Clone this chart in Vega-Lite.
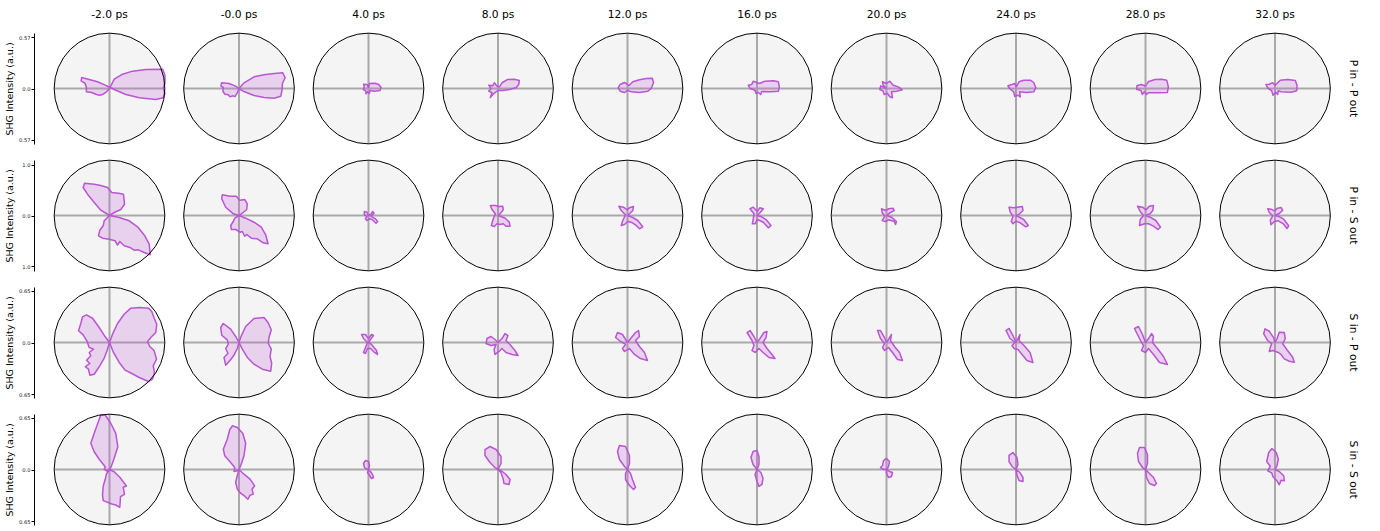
{
"$schema": "https://vega.github.io/schema/vega-lite/v6.json",
"padding": {"left": 4, "top": 9, "right": 5, "bottom": 0},
"spacing": 12,
"datasets": {
"r1": [
{"m":"P in - P out","d":"-2.0 ps","x":0,"y":0},{"m":"P in - P out","d":"-2.0 ps","x":0.053,"y":0.104},{"m":"P in - P out","d":"-2.0 ps","x":0.146,"y":0.16},{"m":"P in - P out","d":"-2.0 ps","x":0.258,"y":0.194},{"m":"P in - P out","d":"-2.0 ps","x":0.407,"y":0.213},{"m":"P in - P out","d":"-2.0 ps","x":0.594,"y":0.216},{"m":"P in - P out","d":"-2.0 ps","x":0.619,"y":0.149},{"m":"P in - P out","d":"-2.0 ps","x":0.619,"y":0.056},{"m":"P in - P out","d":"-2.0 ps","x":0.601,"y":0.011},{"m":"P in - P out","d":"-2.0 ps","x":0.619,"y":-0.056},{"m":"P in - P out","d":"-2.0 ps","x":0.601,"y":-0.104},{"m":"P in - P out","d":"-2.0 ps","x":0.519,"y":-0.123},{"m":"P in - P out","d":"-2.0 ps","x":0.333,"y":-0.104},{"m":"P in - P out","d":"-2.0 ps","x":0.183,"y":-0.067},{"m":"P in - P out","d":"-2.0 ps","x":0.071,"y":-0.019},{"m":"P in - P out","d":"-2.0 ps","x":0.008,"y":0.011},{"m":"P in - P out","d":"-2.0 ps","x":-0.048,"y":0.037},{"m":"P in - P out","d":"-2.0 ps","x":-0.134,"y":0.075},{"m":"P in - P out","d":"-2.0 ps","x":-0.227,"y":0.101},{"m":"P in - P out","d":"-2.0 ps","x":-0.31,"y":0.123},{"m":"P in - P out","d":"-2.0 ps","x":-0.317,"y":0.086},{"m":"P in - P out","d":"-2.0 ps","x":-0.272,"y":0.056},{"m":"P in - P out","d":"-2.0 ps","x":-0.258,"y":0.011},{"m":"P in - P out","d":"-2.0 ps","x":-0.258,"y":-0.037},{"m":"P in - P out","d":"-2.0 ps","x":-0.198,"y":-0.045},{"m":"P in - P out","d":"-2.0 ps","x":-0.146,"y":-0.067},{"m":"P in - P out","d":"-2.0 ps","x":-0.109,"y":-0.075},{"m":"P in - P out","d":"-2.0 ps","x":-0.071,"y":-0.064},{"m":"P in - P out","d":"-2.0 ps","x":-0.034,"y":-0.037},{"m":"P in - P out","d":"-2.0 ps","x":0,"y":0},
{"m":"P in - P out","d":"-0.0 ps","x":0,"y":0},{"m":"P in - P out","d":"-0.0 ps","x":0.056,"y":0.064},{"m":"P in - P out","d":"-0.0 ps","x":0.168,"y":0.131},{"m":"P in - P out","d":"-0.0 ps","x":0.28,"y":0.153},{"m":"P in - P out","d":"-0.0 ps","x":0.392,"y":0.168},{"m":"P in - P out","d":"-0.0 ps","x":0.489,"y":0.176},{"m":"P in - P out","d":"-0.0 ps","x":0.515,"y":0.12},{"m":"P in - P out","d":"-0.0 ps","x":0.485,"y":0.056},{"m":"P in - P out","d":"-0.0 ps","x":0.482,"y":-0.011},{"m":"P in - P out","d":"-0.0 ps","x":0.467,"y":-0.086},{"m":"P in - P out","d":"-0.0 ps","x":0.392,"y":-0.109},{"m":"P in - P out","d":"-0.0 ps","x":0.28,"y":-0.101},{"m":"P in - P out","d":"-0.0 ps","x":0.168,"y":-0.078},{"m":"P in - P out","d":"-0.0 ps","x":0.056,"y":-0.034},{"m":"P in - P out","d":"-0.0 ps","x":0,"y":-0.003},{"m":"P in - P out","d":"-0.0 ps","x":-0.037,"y":0.026},{"m":"P in - P out","d":"-0.0 ps","x":-0.112,"y":0.056},{"m":"P in - P out","d":"-0.0 ps","x":-0.194,"y":0.064},{"m":"P in - P out","d":"-0.0 ps","x":-0.202,"y":0.026},{"m":"P in - P out","d":"-0.0 ps","x":-0.176,"y":0.011},{"m":"P in - P out","d":"-0.0 ps","x":-0.179,"y":-0.034},{"m":"P in - P out","d":"-0.0 ps","x":-0.157,"y":-0.064},{"m":"P in - P out","d":"-0.0 ps","x":-0.12,"y":-0.071},{"m":"P in - P out","d":"-0.0 ps","x":-0.101,"y":-0.093},{"m":"P in - P out","d":"-0.0 ps","x":-0.071,"y":-0.082},{"m":"P in - P out","d":"-0.0 ps","x":-0.045,"y":-0.09},{"m":"P in - P out","d":"-0.0 ps","x":-0.019,"y":-0.048},{"m":"P in - P out","d":"-0.0 ps","x":0,"y":0},
{"m":"P in - P out","d":"4.0 ps","x":0,"y":0.008},{"m":"P in - P out","d":"4.0 ps","x":0.009,"y":0.056},{"m":"P in - P out","d":"4.0 ps","x":0.075,"y":0.059},{"m":"P in - P out","d":"4.0 ps","x":0.114,"y":0.045},{"m":"P in - P out","d":"4.0 ps","x":0.14,"y":0.015},{"m":"P in - P out","d":"4.0 ps","x":0.129,"y":-0.022},{"m":"P in - P out","d":"4.0 ps","x":0.065,"y":-0.03},{"m":"P in - P out","d":"4.0 ps","x":0.017,"y":-0.022},{"m":"P in - P out","d":"4.0 ps","x":0.009,"y":-0.056},{"m":"P in - P out","d":"4.0 ps","x":-0.009,"y":-0.037},{"m":"P in - P out","d":"4.0 ps","x":-0.028,"y":-0.059},{"m":"P in - P out","d":"4.0 ps","x":-0.031,"y":-0.026},{"m":"P in - P out","d":"4.0 ps","x":-0.058,"y":-0.011},{"m":"P in - P out","d":"4.0 ps","x":-0.047,"y":0.019},{"m":"P in - P out","d":"4.0 ps","x":-0.054,"y":0.048},{"m":"P in - P out","d":"4.0 ps","x":-0.017,"y":0.045},{"m":"P in - P out","d":"4.0 ps","x":0,"y":0.008},
{"m":"P in - P out","d":"8.0 ps","x":0.015,"y":0.015},{"m":"P in - P out","d":"8.0 ps","x":0.045,"y":0.064},{"m":"P in - P out","d":"8.0 ps","x":0.109,"y":0.101},{"m":"P in - P out","d":"8.0 ps","x":0.183,"y":0.104},{"m":"P in - P out","d":"8.0 ps","x":0.239,"y":0.09},{"m":"P in - P out","d":"8.0 ps","x":0.232,"y":0.045},{"m":"P in - P out","d":"8.0 ps","x":0.202,"y":0.008},{"m":"P in - P out","d":"8.0 ps","x":0.127,"y":-0.011},{"m":"P in - P out","d":"8.0 ps","x":0.053,"y":-0.022},{"m":"P in - P out","d":"8.0 ps","x":0.008,"y":-0.019},{"m":"P in - P out","d":"8.0 ps","x":-0.022,"y":-0.037},{"m":"P in - P out","d":"8.0 ps","x":-0.059,"y":-0.067},{"m":"P in - P out","d":"8.0 ps","x":-0.086,"y":-0.101},{"m":"P in - P out","d":"8.0 ps","x":-0.067,"y":-0.048},{"m":"P in - P out","d":"8.0 ps","x":-0.104,"y":-0.03},{"m":"P in - P out","d":"8.0 ps","x":-0.078,"y":0},{"m":"P in - P out","d":"8.0 ps","x":-0.104,"y":0.037},{"m":"P in - P out","d":"8.0 ps","x":-0.059,"y":0.03},{"m":"P in - P out","d":"8.0 ps","x":-0.041,"y":0.064},{"m":"P in - P out","d":"8.0 ps","x":-0.015,"y":0.03},{"m":"P in - P out","d":"8.0 ps","x":0.015,"y":0.015},
{"m":"P in - P out","d":"12.0 ps","x":0.015,"y":0.03},{"m":"P in - P out","d":"12.0 ps","x":0.059,"y":0.075},{"m":"P in - P out","d":"12.0 ps","x":0.134,"y":0.097},{"m":"P in - P out","d":"12.0 ps","x":0.209,"y":0.112},{"m":"P in - P out","d":"12.0 ps","x":0.277,"y":0.115},{"m":"P in - P out","d":"12.0 ps","x":0.291,"y":0.067},{"m":"P in - P out","d":"12.0 ps","x":0.265,"y":0},{"m":"P in - P out","d":"12.0 ps","x":0.227,"y":-0.03},{"m":"P in - P out","d":"12.0 ps","x":0.134,"y":-0.045},{"m":"P in - P out","d":"12.0 ps","x":0.041,"y":-0.037},{"m":"P in - P out","d":"12.0 ps","x":0.003,"y":-0.019},{"m":"P in - P out","d":"12.0 ps","x":-0.034,"y":-0.045},{"m":"P in - P out","d":"12.0 ps","x":-0.082,"y":-0.03},{"m":"P in - P out","d":"12.0 ps","x":-0.104,"y":0.008},{"m":"P in - P out","d":"12.0 ps","x":-0.082,"y":0.045},{"m":"P in - P out","d":"12.0 ps","x":-0.034,"y":0.067},{"m":"P in - P out","d":"12.0 ps","x":0,"y":0.045},{"m":"P in - P out","d":"12.0 ps","x":0.015,"y":0.03},
{"m":"P in - P out","d":"16.0 ps","x":0.026,"y":0.056},{"m":"P in - P out","d":"16.0 ps","x":0.09,"y":0.082},{"m":"P in - P out","d":"16.0 ps","x":0.183,"y":0.086},{"m":"P in - P out","d":"16.0 ps","x":0.239,"y":0.075},{"m":"P in - P out","d":"16.0 ps","x":0.25,"y":0.019},{"m":"P in - P out","d":"16.0 ps","x":0.239,"y":-0.03},{"m":"P in - P out","d":"16.0 ps","x":0.146,"y":-0.037},{"m":"P in - P out","d":"16.0 ps","x":0.053,"y":-0.034},{"m":"P in - P out","d":"16.0 ps","x":0.041,"y":-0.067},{"m":"P in - P out","d":"16.0 ps","x":0.015,"y":-0.045},{"m":"P in - P out","d":"16.0 ps","x":-0.011,"y":-0.056},{"m":"P in - P out","d":"16.0 ps","x":-0.022,"y":-0.019},{"m":"P in - P out","d":"16.0 ps","x":-0.078,"y":0},{"m":"P in - P out","d":"16.0 ps","x":-0.097,"y":0.037},{"m":"P in - P out","d":"16.0 ps","x":-0.059,"y":0.045},{"m":"P in - P out","d":"16.0 ps","x":-0.041,"y":0.082},{"m":"P in - P out","d":"16.0 ps","x":-0.003,"y":0.067},{"m":"P in - P out","d":"16.0 ps","x":0.026,"y":0.056},
{"m":"P in - P out","d":"20.0 ps","x":0,"y":0},{"m":"P in - P out","d":"20.0 ps","x":-0.037,"y":0.037},{"m":"P in - P out","d":"20.0 ps","x":-0.045,"y":0.075},{"m":"P in - P out","d":"20.0 ps","x":0,"y":0.056},{"m":"P in - P out","d":"20.0 ps","x":0.037,"y":0.082},{"m":"P in - P out","d":"20.0 ps","x":0.075,"y":0.037},{"m":"P in - P out","d":"20.0 ps","x":0.138,"y":0.015},{"m":"P in - P out","d":"20.0 ps","x":0.176,"y":-0.015},{"m":"P in - P out","d":"20.0 ps","x":0.112,"y":-0.03},{"m":"P in - P out","d":"20.0 ps","x":0.056,"y":-0.037},{"m":"P in - P out","d":"20.0 ps","x":0.067,"y":-0.104},{"m":"P in - P out","d":"20.0 ps","x":0.037,"y":-0.093},{"m":"P in - P out","d":"20.0 ps","x":0.011,"y":-0.056},{"m":"P in - P out","d":"20.0 ps","x":-0.026,"y":-0.067},{"m":"P in - P out","d":"20.0 ps","x":-0.037,"y":-0.03},{"m":"P in - P out","d":"20.0 ps","x":-0.075,"y":-0.011},{"m":"P in - P out","d":"20.0 ps","x":-0.064,"y":0.03},{"m":"P in - P out","d":"20.0 ps","x":0,"y":0},
{"m":"P in - P out","d":"24.0 ps","x":0.003,"y":0.019},{"m":"P in - P out","d":"24.0 ps","x":0.034,"y":0.075},{"m":"P in - P out","d":"24.0 ps","x":0.086,"y":0.093},{"m":"P in - P out","d":"24.0 ps","x":0.16,"y":0.093},{"m":"P in - P out","d":"24.0 ps","x":0.198,"y":0.067},{"m":"P in - P out","d":"24.0 ps","x":0.221,"y":0.008},{"m":"P in - P out","d":"24.0 ps","x":0.198,"y":-0.037},{"m":"P in - P out","d":"24.0 ps","x":0.115,"y":-0.045},{"m":"P in - P out","d":"24.0 ps","x":0.041,"y":-0.037},{"m":"P in - P out","d":"24.0 ps","x":0.048,"y":-0.093},{"m":"P in - P out","d":"24.0 ps","x":0.022,"y":-0.075},{"m":"P in - P out","d":"24.0 ps","x":-0.015,"y":-0.086},{"m":"P in - P out","d":"24.0 ps","x":-0.026,"y":-0.037},{"m":"P in - P out","d":"24.0 ps","x":-0.071,"y":0},{"m":"P in - P out","d":"24.0 ps","x":-0.09,"y":0.03},{"m":"P in - P out","d":"24.0 ps","x":-0.045,"y":0.045},{"m":"P in - P out","d":"24.0 ps","x":-0.015,"y":0.056},{"m":"P in - P out","d":"24.0 ps","x":0.003,"y":0.019},
{"m":"P in - P out","d":"28.0 ps","x":0.013,"y":0.045},{"m":"P in - P out","d":"28.0 ps","x":0.031,"y":0.075},{"m":"P in - P out","d":"28.0 ps","x":0.106,"y":0.101},{"m":"P in - P out","d":"28.0 ps","x":0.181,"y":0.104},{"m":"P in - P out","d":"28.0 ps","x":0.237,"y":0.093},{"m":"P in - P out","d":"28.0 ps","x":0.255,"y":0.019},{"m":"P in - P out","d":"28.0 ps","x":0.244,"y":-0.045},{"m":"P in - P out","d":"28.0 ps","x":0.143,"y":-0.048},{"m":"P in - P out","d":"28.0 ps","x":0.031,"y":-0.048},{"m":"P in - P out","d":"28.0 ps","x":0.013,"y":-0.067},{"m":"P in - P out","d":"28.0 ps","x":-0.013,"y":-0.037},{"m":"P in - P out","d":"28.0 ps","x":-0.036,"y":-0.067},{"m":"P in - P out","d":"28.0 ps","x":-0.05,"y":-0.022},{"m":"P in - P out","d":"28.0 ps","x":-0.099,"y":-0.008},{"m":"P in - P out","d":"28.0 ps","x":-0.095,"y":0.03},{"m":"P in - P out","d":"28.0 ps","x":-0.05,"y":0.045},{"m":"P in - P out","d":"28.0 ps","x":-0.006,"y":0.03},{"m":"P in - P out","d":"28.0 ps","x":0.013,"y":0.045},
{"m":"P in - P out","d":"32.0 ps","x":0.022,"y":0.056},{"m":"P in - P out","d":"32.0 ps","x":0.059,"y":0.093},{"m":"P in - P out","d":"32.0 ps","x":0.142,"y":0.101},{"m":"P in - P out","d":"32.0 ps","x":0.227,"y":0.09},{"m":"P in - P out","d":"32.0 ps","x":0.246,"y":0.037},{"m":"P in - P out","d":"32.0 ps","x":0.243,"y":-0.026},{"m":"P in - P out","d":"32.0 ps","x":0.179,"y":-0.041},{"m":"P in - P out","d":"32.0 ps","x":0.067,"y":-0.037},{"m":"P in - P out","d":"32.0 ps","x":0.037,"y":-0.026},{"m":"P in - P out","d":"32.0 ps","x":0.03,"y":-0.067},{"m":"P in - P out","d":"32.0 ps","x":0.008,"y":-0.041},{"m":"P in - P out","d":"32.0 ps","x":-0.022,"y":-0.075},{"m":"P in - P out","d":"32.0 ps","x":-0.037,"y":-0.026},{"m":"P in - P out","d":"32.0 ps","x":-0.082,"y":0.008},{"m":"P in - P out","d":"32.0 ps","x":-0.101,"y":0.045},{"m":"P in - P out","d":"32.0 ps","x":-0.064,"y":0.048},{"m":"P in - P out","d":"32.0 ps","x":-0.026,"y":0.064},{"m":"P in - P out","d":"32.0 ps","x":0,"y":0.037},{"m":"P in - P out","d":"32.0 ps","x":0.022,"y":0.056}
],
"r2": [
{"m":"P in - S out","d":"-2.0 ps","x":0,"y":0},{"m":"P in - S out","d":"-2.0 ps","x":0.092,"y":0.059},{"m":"P in - S out","d":"-2.0 ps","x":0.222,"y":0.118},{"m":"P in - S out","d":"-2.0 ps","x":0.295,"y":0.222},{"m":"P in - S out","d":"-2.0 ps","x":0.275,"y":0.418},{"m":"P in - S out","d":"-2.0 ps","x":0.177,"y":0.438},{"m":"P in - S out","d":"-2.0 ps","x":0.045,"y":0.452},{"m":"P in - S out","d":"-2.0 ps","x":-0.039,"y":0.55},{"m":"P in - S out","d":"-2.0 ps","x":-0.171,"y":0.589},{"m":"P in - S out","d":"-2.0 ps","x":-0.3,"y":0.615},{"m":"P in - S out","d":"-2.0 ps","x":-0.491,"y":0.634},{"m":"P in - S out","d":"-2.0 ps","x":-0.517,"y":0.55},{"m":"P in - S out","d":"-2.0 ps","x":-0.432,"y":0.418},{"m":"P in - S out","d":"-2.0 ps","x":-0.3,"y":0.255},{"m":"P in - S out","d":"-2.0 ps","x":-0.171,"y":0.104},{"m":"P in - S out","d":"-2.0 ps","x":0,"y":0},{"m":"P in - S out","d":"-2.0 ps","x":0.191,"y":-0.039},{"m":"P in - S out","d":"-2.0 ps","x":0.387,"y":-0.104},{"m":"P in - S out","d":"-2.0 ps","x":0.55,"y":-0.222},{"m":"P in - S out","d":"-2.0 ps","x":0.693,"y":-0.399},{"m":"P in - S out","d":"-2.0 ps","x":0.78,"y":-0.564},{"m":"P in - S out","d":"-2.0 ps","x":0.8,"y":-0.772},{"m":"P in - S out","d":"-2.0 ps","x":0.682,"y":-0.727},{"m":"P in - S out","d":"-2.0 ps","x":0.57,"y":-0.674},{"m":"P in - S out","d":"-2.0 ps","x":0.485,"y":-0.682},{"m":"P in - S out","d":"-2.0 ps","x":0.399,"y":-0.628},{"m":"P in - S out","d":"-2.0 ps","x":0.289,"y":-0.595},{"m":"P in - S out","d":"-2.0 ps","x":0.202,"y":-0.511},{"m":"P in - S out","d":"-2.0 ps","x":0.157,"y":-0.583},{"m":"P in - S out","d":"-2.0 ps","x":0.112,"y":-0.497},{"m":"P in - S out","d":"-2.0 ps","x":-0.006,"y":-0.465},{"m":"P in - S out","d":"-2.0 ps","x":-0.137,"y":-0.446},{"m":"P in - S out","d":"-2.0 ps","x":-0.216,"y":-0.399},{"m":"P in - S out","d":"-2.0 ps","x":-0.191,"y":-0.289},{"m":"P in - S out","d":"-2.0 ps","x":-0.124,"y":-0.202},{"m":"P in - S out","d":"-2.0 ps","x":-0.104,"y":-0.104},{"m":"P in - S out","d":"-2.0 ps","x":0,"y":0},
{"m":"P in - S out","d":"-0.0 ps","x":0,"y":0},{"m":"P in - S out","d":"-0.0 ps","x":0.065,"y":0.045},{"m":"P in - S out","d":"-0.0 ps","x":0.151,"y":0.118},{"m":"P in - S out","d":"-0.0 ps","x":0.163,"y":0.23},{"m":"P in - S out","d":"-0.0 ps","x":0.112,"y":0.314},{"m":"P in - S out","d":"-0.0 ps","x":0.014,"y":0.3},{"m":"P in - S out","d":"-0.0 ps","x":-0.053,"y":0.379},{"m":"P in - S out","d":"-0.0 ps","x":-0.177,"y":0.379},{"m":"P in - S out","d":"-0.0 ps","x":-0.328,"y":0.407},{"m":"P in - S out","d":"-0.0 ps","x":-0.34,"y":0.328},{"m":"P in - S out","d":"-0.0 ps","x":-0.261,"y":0.163},{"m":"P in - S out","d":"-0.0 ps","x":-0.112,"y":0.033},{"m":"P in - S out","d":"-0.0 ps","x":0,"y":0},{"m":"P in - S out","d":"-0.0 ps","x":0.132,"y":-0.053},{"m":"P in - S out","d":"-0.0 ps","x":0.295,"y":-0.132},{"m":"P in - S out","d":"-0.0 ps","x":0.438,"y":-0.23},{"m":"P in - S out","d":"-0.0 ps","x":0.524,"y":-0.379},{"m":"P in - S out","d":"-0.0 ps","x":0.57,"y":-0.556},{"m":"P in - S out","d":"-0.0 ps","x":0.477,"y":-0.536},{"m":"P in - S out","d":"-0.0 ps","x":0.359,"y":-0.458},{"m":"P in - S out","d":"-0.0 ps","x":0.242,"y":-0.446},{"m":"P in - S out","d":"-0.0 ps","x":0.151,"y":-0.373},{"m":"P in - S out","d":"-0.0 ps","x":0.112,"y":-0.407},{"m":"P in - S out","d":"-0.0 ps","x":0.065,"y":-0.314},{"m":"P in - S out","d":"-0.0 ps","x":0.02,"y":-0.328},{"m":"P in - S out","d":"-0.0 ps","x":-0.065,"y":-0.275},{"m":"P in - S out","d":"-0.0 ps","x":-0.151,"y":-0.275},{"m":"P in - S out","d":"-0.0 ps","x":-0.163,"y":-0.196},{"m":"P in - S out","d":"-0.0 ps","x":-0.112,"y":-0.118},{"m":"P in - S out","d":"-0.0 ps","x":-0.084,"y":-0.053},{"m":"P in - S out","d":"-0.0 ps","x":0,"y":0},
{"m":"P in - S out","d":"4.0 ps","x":0,"y":0},{"m":"P in - S out","d":"4.0 ps","x":0.049,"y":0.026},{"m":"P in - S out","d":"4.0 ps","x":0.082,"y":0.079},{"m":"P in - S out","d":"4.0 ps","x":0.108,"y":0.045},{"m":"P in - S out","d":"4.0 ps","x":0.049,"y":-0.014},{"m":"P in - S out","d":"4.0 ps","x":0.134,"y":-0.065},{"m":"P in - S out","d":"4.0 ps","x":0.181,"y":-0.118},{"m":"P in - S out","d":"4.0 ps","x":0.147,"y":-0.151},{"m":"P in - S out","d":"4.0 ps","x":0.069,"y":-0.079},{"m":"P in - S out","d":"4.0 ps","x":0.016,"y":-0.065},{"m":"P in - S out","d":"4.0 ps","x":-0.029,"y":-0.098},{"m":"P in - S out","d":"4.0 ps","x":-0.063,"y":-0.065},{"m":"P in - S out","d":"4.0 ps","x":-0.029,"y":-0.02},{"m":"P in - S out","d":"4.0 ps","x":-0.082,"y":0.014},{"m":"P in - S out","d":"4.0 ps","x":-0.082,"y":0.079},{"m":"P in - S out","d":"4.0 ps","x":-0.029,"y":0.065},{"m":"P in - S out","d":"4.0 ps","x":0,"y":0},
{"m":"P in - S out","d":"8.0 ps","x":0,"y":0},{"m":"P in - S out","d":"8.0 ps","x":0.059,"y":0.053},{"m":"P in - S out","d":"8.0 ps","x":0.104,"y":0.112},{"m":"P in - S out","d":"8.0 ps","x":0.092,"y":0.183},{"m":"P in - S out","d":"8.0 ps","x":0.014,"y":0.177},{"m":"P in - S out","d":"8.0 ps","x":-0.053,"y":0.196},{"m":"P in - S out","d":"8.0 ps","x":-0.151,"y":0.196},{"m":"P in - S out","d":"8.0 ps","x":-0.118,"y":0.118},{"m":"P in - S out","d":"8.0 ps","x":-0.053,"y":0.033},{"m":"P in - S out","d":"8.0 ps","x":-0.092,"y":-0.065},{"m":"P in - S out","d":"8.0 ps","x":-0.132,"y":-0.196},{"m":"P in - S out","d":"8.0 ps","x":-0.073,"y":-0.216},{"m":"P in - S out","d":"8.0 ps","x":-0.02,"y":-0.163},{"m":"P in - S out","d":"8.0 ps","x":0.039,"y":-0.177},{"m":"P in - S out","d":"8.0 ps","x":0.104,"y":-0.163},{"m":"P in - S out","d":"8.0 ps","x":0.157,"y":-0.21},{"m":"P in - S out","d":"8.0 ps","x":0.236,"y":-0.21},{"m":"P in - S out","d":"8.0 ps","x":0.222,"y":-0.132},{"m":"P in - S out","d":"8.0 ps","x":0.143,"y":-0.053},{"m":"P in - S out","d":"8.0 ps","x":0.059,"y":-0.02},{"m":"P in - S out","d":"8.0 ps","x":0,"y":0},
{"m":"P in - S out","d":"12.0 ps","x":0,"y":0},{"m":"P in - S out","d":"12.0 ps","x":0.059,"y":0.053},{"m":"P in - S out","d":"12.0 ps","x":0.104,"y":0.098},{"m":"P in - S out","d":"12.0 ps","x":0.118,"y":0.177},{"m":"P in - S out","d":"12.0 ps","x":0.039,"y":0.151},{"m":"P in - S out","d":"12.0 ps","x":-0.006,"y":0.112},{"m":"P in - S out","d":"12.0 ps","x":-0.079,"y":0.163},{"m":"P in - S out","d":"12.0 ps","x":-0.171,"y":0.183},{"m":"P in - S out","d":"12.0 ps","x":-0.124,"y":0.098},{"m":"P in - S out","d":"12.0 ps","x":-0.039,"y":0.014},{"m":"P in - S out","d":"12.0 ps","x":-0.092,"y":-0.098},{"m":"P in - S out","d":"12.0 ps","x":-0.124,"y":-0.196},{"m":"P in - S out","d":"12.0 ps","x":-0.059,"y":-0.177},{"m":"P in - S out","d":"12.0 ps","x":0.006,"y":-0.118},{"m":"P in - S out","d":"12.0 ps","x":0.073,"y":-0.132},{"m":"P in - S out","d":"12.0 ps","x":0.171,"y":-0.196},{"m":"P in - S out","d":"12.0 ps","x":0.236,"y":-0.261},{"m":"P in - S out","d":"12.0 ps","x":0.3,"y":-0.222},{"m":"P in - S out","d":"12.0 ps","x":0.202,"y":-0.098},{"m":"P in - S out","d":"12.0 ps","x":0.104,"y":-0.039},{"m":"P in - S out","d":"12.0 ps","x":0,"y":0},
{"m":"P in - S out","d":"16.0 ps","x":0,"y":0},{"m":"P in - S out","d":"16.0 ps","x":0.059,"y":0.053},{"m":"P in - S out","d":"16.0 ps","x":0.124,"y":0.132},{"m":"P in - S out","d":"16.0 ps","x":0.053,"y":0.151},{"m":"P in - S out","d":"16.0 ps","x":0.006,"y":0.079},{"m":"P in - S out","d":"16.0 ps","x":-0.073,"y":0.163},{"m":"P in - S out","d":"16.0 ps","x":-0.137,"y":0.132},{"m":"P in - S out","d":"16.0 ps","x":-0.059,"y":0.033},{"m":"P in - S out","d":"16.0 ps","x":-0.073,"y":-0.065},{"m":"P in - S out","d":"16.0 ps","x":-0.092,"y":-0.163},{"m":"P in - S out","d":"16.0 ps","x":-0.039,"y":-0.163},{"m":"P in - S out","d":"16.0 ps","x":0.006,"y":-0.079},{"m":"P in - S out","d":"16.0 ps","x":0.124,"y":-0.132},{"m":"P in - S out","d":"16.0 ps","x":0.222,"y":-0.242},{"m":"P in - S out","d":"16.0 ps","x":0.275,"y":-0.196},{"m":"P in - S out","d":"16.0 ps","x":0.177,"y":-0.079},{"m":"P in - S out","d":"16.0 ps","x":0.092,"y":-0.026},{"m":"P in - S out","d":"16.0 ps","x":0,"y":0},
{"m":"P in - S out","d":"20.0 ps","x":0,"y":0},{"m":"P in - S out","d":"20.0 ps","x":0.065,"y":0.053},{"m":"P in - S out","d":"20.0 ps","x":0.151,"y":0.098},{"m":"P in - S out","d":"20.0 ps","x":0.132,"y":0.143},{"m":"P in - S out","d":"20.0 ps","x":0.045,"y":0.132},{"m":"P in - S out","d":"20.0 ps","x":-0.02,"y":0.098},{"m":"P in - S out","d":"20.0 ps","x":-0.098,"y":0.132},{"m":"P in - S out","d":"20.0 ps","x":-0.084,"y":0.053},{"m":"P in - S out","d":"20.0 ps","x":-0.033,"y":-0.014},{"m":"P in - S out","d":"20.0 ps","x":-0.084,"y":-0.098},{"m":"P in - S out","d":"20.0 ps","x":-0.02,"y":-0.118},{"m":"P in - S out","d":"20.0 ps","x":0.045,"y":-0.084},{"m":"P in - S out","d":"20.0 ps","x":0.151,"y":-0.118},{"m":"P in - S out","d":"20.0 ps","x":0.177,"y":-0.177},{"m":"P in - S out","d":"20.0 ps","x":0.196,"y":-0.118},{"m":"P in - S out","d":"20.0 ps","x":0.098,"y":-0.033},{"m":"P in - S out","d":"20.0 ps","x":0,"y":0},
{"m":"P in - S out","d":"24.0 ps","x":0,"y":0},{"m":"P in - S out","d":"24.0 ps","x":0.073,"y":0.033},{"m":"P in - S out","d":"24.0 ps","x":0.137,"y":0.098},{"m":"P in - S out","d":"24.0 ps","x":0.124,"y":0.177},{"m":"P in - S out","d":"24.0 ps","x":0.02,"y":0.163},{"m":"P in - S out","d":"24.0 ps","x":-0.045,"y":0.151},{"m":"P in - S out","d":"24.0 ps","x":-0.137,"y":0.163},{"m":"P in - S out","d":"24.0 ps","x":-0.112,"y":0.065},{"m":"P in - S out","d":"24.0 ps","x":-0.059,"y":-0.014},{"m":"P in - S out","d":"24.0 ps","x":-0.092,"y":-0.118},{"m":"P in - S out","d":"24.0 ps","x":-0.059,"y":-0.163},{"m":"P in - S out","d":"24.0 ps","x":-0.006,"y":-0.112},{"m":"P in - S out","d":"24.0 ps","x":0.084,"y":-0.143},{"m":"P in - S out","d":"24.0 ps","x":0.191,"y":-0.222},{"m":"P in - S out","d":"24.0 ps","x":0.242,"y":-0.196},{"m":"P in - S out","d":"24.0 ps","x":0.151,"y":-0.079},{"m":"P in - S out","d":"24.0 ps","x":0,"y":0},
{"m":"P in - S out","d":"28.0 ps","x":0,"y":0},{"m":"P in - S out","d":"28.0 ps","x":0.092,"y":0.033},{"m":"P in - S out","d":"28.0 ps","x":0.143,"y":0.098},{"m":"P in - S out","d":"28.0 ps","x":0.157,"y":0.196},{"m":"P in - S out","d":"28.0 ps","x":0.073,"y":0.183},{"m":"P in - S out","d":"28.0 ps","x":0.014,"y":0.112},{"m":"P in - S out","d":"28.0 ps","x":-0.059,"y":0.163},{"m":"P in - S out","d":"28.0 ps","x":-0.157,"y":0.183},{"m":"P in - S out","d":"28.0 ps","x":-0.104,"y":0.079},{"m":"P in - S out","d":"28.0 ps","x":-0.039,"y":0},{"m":"P in - S out","d":"28.0 ps","x":-0.104,"y":-0.079},{"m":"P in - S out","d":"28.0 ps","x":-0.118,"y":-0.196},{"m":"P in - S out","d":"28.0 ps","x":-0.02,"y":-0.163},{"m":"P in - S out","d":"28.0 ps","x":0.059,"y":-0.163},{"m":"P in - S out","d":"28.0 ps","x":0.157,"y":-0.21},{"m":"P in - S out","d":"28.0 ps","x":0.242,"y":-0.275},{"m":"P in - S out","d":"28.0 ps","x":0.295,"y":-0.23},{"m":"P in - S out","d":"28.0 ps","x":0.202,"y":-0.098},{"m":"P in - S out","d":"28.0 ps","x":0.092,"y":-0.033},{"m":"P in - S out","d":"28.0 ps","x":0,"y":0},
{"m":"P in - S out","d":"32.0 ps","x":0,"y":0},{"m":"P in - S out","d":"32.0 ps","x":0.084,"y":0.039},{"m":"P in - S out","d":"32.0 ps","x":0.151,"y":0.104},{"m":"P in - S out","d":"32.0 ps","x":0.118,"y":0.157},{"m":"P in - S out","d":"32.0 ps","x":0.053,"y":0.143},{"m":"P in - S out","d":"32.0 ps","x":-0.014,"y":0.092},{"m":"P in - S out","d":"32.0 ps","x":-0.079,"y":0.124},{"m":"P in - S out","d":"32.0 ps","x":-0.143,"y":0.132},{"m":"P in - S out","d":"32.0 ps","x":-0.112,"y":0.059},{"m":"P in - S out","d":"32.0 ps","x":-0.045,"y":-0.006},{"m":"P in - S out","d":"32.0 ps","x":-0.092,"y":-0.092},{"m":"P in - S out","d":"32.0 ps","x":-0.079,"y":-0.183},{"m":"P in - S out","d":"32.0 ps","x":-0.014,"y":-0.118},{"m":"P in - S out","d":"32.0 ps","x":0.065,"y":-0.104},{"m":"P in - S out","d":"32.0 ps","x":0.171,"y":-0.171},{"m":"P in - S out","d":"32.0 ps","x":0.236,"y":-0.255},{"m":"P in - S out","d":"32.0 ps","x":0.269,"y":-0.202},{"m":"P in - S out","d":"32.0 ps","x":0.171,"y":-0.073},{"m":"P in - S out","d":"32.0 ps","x":0.065,"y":-0.014},{"m":"P in - S out","d":"32.0 ps","x":0,"y":0}
],
"r3": [
{"m":"S in - P out","d":"-2.0 ps","x":0,"y":0},{"m":"S in - P out","d":"-2.0 ps","x":0.038,"y":0.105},{"m":"S in - P out","d":"-2.0 ps","x":0.101,"y":0.24},{"m":"S in - P out","d":"-2.0 ps","x":0.185,"y":0.357},{"m":"S in - P out","d":"-2.0 ps","x":0.269,"y":0.433},{"m":"S in - P out","d":"-2.0 ps","x":0.375,"y":0.441},{"m":"S in - P out","d":"-2.0 ps","x":0.492,"y":0.433},{"m":"S in - P out","d":"-2.0 ps","x":0.533,"y":0.391},{"m":"S in - P out","d":"-2.0 ps","x":0.564,"y":0.306},{"m":"S in - P out","d":"-2.0 ps","x":0.596,"y":0.231},{"m":"S in - P out","d":"-2.0 ps","x":0.584,"y":0.126},{"m":"S in - P out","d":"-2.0 ps","x":0.521,"y":0.063},{"m":"S in - P out","d":"-2.0 ps","x":0.479,"y":0.009},{"m":"S in - P out","d":"-2.0 ps","x":0.508,"y":-0.05},{"m":"S in - P out","d":"-2.0 ps","x":0.564,"y":-0.105},{"m":"S in - P out","d":"-2.0 ps","x":0.593,"y":-0.211},{"m":"S in - P out","d":"-2.0 ps","x":0.551,"y":-0.294},{"m":"S in - P out","d":"-2.0 ps","x":0.567,"y":-0.378},{"m":"S in - P out","d":"-2.0 ps","x":0.542,"y":-0.463},{"m":"S in - P out","d":"-2.0 ps","x":0.492,"y":-0.492},{"m":"S in - P out","d":"-2.0 ps","x":0.375,"y":-0.441},{"m":"S in - P out","d":"-2.0 ps","x":0.281,"y":-0.391},{"m":"S in - P out","d":"-2.0 ps","x":0.198,"y":-0.349},{"m":"S in - P out","d":"-2.0 ps","x":0.122,"y":-0.252},{"m":"S in - P out","d":"-2.0 ps","x":0.05,"y":-0.126},{"m":"S in - P out","d":"-2.0 ps","x":0,"y":0},{"m":"S in - P out","d":"-2.0 ps","x":-0.054,"y":0.072},{"m":"S in - P out","d":"-2.0 ps","x":-0.13,"y":0.189},{"m":"S in - P out","d":"-2.0 ps","x":-0.214,"y":0.306},{"m":"S in - P out","d":"-2.0 ps","x":-0.29,"y":0.349},{"m":"S in - P out","d":"-2.0 ps","x":-0.34,"y":0.324},{"m":"S in - P out","d":"-2.0 ps","x":-0.362,"y":0.24},{"m":"S in - P out","d":"-2.0 ps","x":-0.391,"y":0.148},{"m":"S in - P out","d":"-2.0 ps","x":-0.332,"y":0.097},{"m":"S in - P out","d":"-2.0 ps","x":-0.286,"y":0.021},{"m":"S in - P out","d":"-2.0 ps","x":-0.256,"y":-0.063},{"m":"S in - P out","d":"-2.0 ps","x":-0.202,"y":-0.084},{"m":"S in - P out","d":"-2.0 ps","x":-0.256,"y":-0.126},{"m":"S in - P out","d":"-2.0 ps","x":-0.236,"y":-0.168},{"m":"S in - P out","d":"-2.0 ps","x":-0.29,"y":-0.223},{"m":"S in - P out","d":"-2.0 ps","x":-0.248,"y":-0.265},{"m":"S in - P out","d":"-2.0 ps","x":-0.306,"y":-0.306},{"m":"S in - P out","d":"-2.0 ps","x":-0.265,"y":-0.337},{"m":"S in - P out","d":"-2.0 ps","x":-0.248,"y":-0.412},{"m":"S in - P out","d":"-2.0 ps","x":-0.193,"y":-0.4},{"m":"S in - P out","d":"-2.0 ps","x":-0.13,"y":-0.306},{"m":"S in - P out","d":"-2.0 ps","x":-0.067,"y":-0.198},{"m":"S in - P out","d":"-2.0 ps","x":-0.025,"y":-0.084},{"m":"S in - P out","d":"-2.0 ps","x":0,"y":0},
{"m":"S in - P out","d":"-0.0 ps","x":0,"y":0},{"m":"S in - P out","d":"-0.0 ps","x":0.029,"y":0.084},{"m":"S in - P out","d":"-0.0 ps","x":0.084,"y":0.202},{"m":"S in - P out","d":"-0.0 ps","x":0.189,"y":0.303},{"m":"S in - P out","d":"-0.0 ps","x":0.315,"y":0.315},{"m":"S in - P out","d":"-0.0 ps","x":0.366,"y":0.252},{"m":"S in - P out","d":"-0.0 ps","x":0.407,"y":0.16},{"m":"S in - P out","d":"-0.0 ps","x":0.378,"y":0.063},{"m":"S in - P out","d":"-0.0 ps","x":0.369,"y":-0.009},{"m":"S in - P out","d":"-0.0 ps","x":0.407,"y":-0.084},{"m":"S in - P out","d":"-0.0 ps","x":0.391,"y":-0.177},{"m":"S in - P out","d":"-0.0 ps","x":0.412,"y":-0.261},{"m":"S in - P out","d":"-0.0 ps","x":0.4,"y":-0.362},{"m":"S in - P out","d":"-0.0 ps","x":0.294,"y":-0.337},{"m":"S in - P out","d":"-0.0 ps","x":0.189,"y":-0.274},{"m":"S in - P out","d":"-0.0 ps","x":0.105,"y":-0.189},{"m":"S in - P out","d":"-0.0 ps","x":0.042,"y":-0.084},{"m":"S in - P out","d":"-0.0 ps","x":0,"y":0},{"m":"S in - P out","d":"-0.0 ps","x":-0.042,"y":0.076},{"m":"S in - P out","d":"-0.0 ps","x":-0.105,"y":0.168},{"m":"S in - P out","d":"-0.0 ps","x":-0.198,"y":0.24},{"m":"S in - P out","d":"-0.0 ps","x":-0.231,"y":0.189},{"m":"S in - P out","d":"-0.0 ps","x":-0.218,"y":0.092},{"m":"S in - P out","d":"-0.0 ps","x":-0.148,"y":0.034},{"m":"S in - P out","d":"-0.0 ps","x":-0.135,"y":-0.021},{"m":"S in - P out","d":"-0.0 ps","x":-0.168,"y":-0.076},{"m":"S in - P out","d":"-0.0 ps","x":-0.139,"y":-0.139},{"m":"S in - P out","d":"-0.0 ps","x":-0.189,"y":-0.189},{"m":"S in - P out","d":"-0.0 ps","x":-0.168,"y":-0.286},{"m":"S in - P out","d":"-0.0 ps","x":-0.117,"y":-0.231},{"m":"S in - P out","d":"-0.0 ps","x":-0.063,"y":-0.16},{"m":"S in - P out","d":"-0.0 ps","x":-0.021,"y":-0.076},{"m":"S in - P out","d":"-0.0 ps","x":0,"y":0},
{"m":"S in - P out","d":"4.0 ps","x":0,"y":0},{"m":"S in - P out","d":"4.0 ps","x":0.025,"y":0.038},{"m":"S in - P out","d":"4.0 ps","x":0.063,"y":0.088},{"m":"S in - P out","d":"4.0 ps","x":0.038,"y":0.101},{"m":"S in - P out","d":"4.0 ps","x":0,"y":0.05},{"m":"S in - P out","d":"4.0 ps","x":-0.038,"y":0.101},{"m":"S in - P out","d":"4.0 ps","x":-0.088,"y":0.101},{"m":"S in - P out","d":"4.0 ps","x":-0.063,"y":0.05},{"m":"S in - P out","d":"4.0 ps","x":-0.013,"y":0},{"m":"S in - P out","d":"4.0 ps","x":-0.038,"y":-0.063},{"m":"S in - P out","d":"4.0 ps","x":-0.063,"y":-0.126},{"m":"S in - P out","d":"4.0 ps","x":-0.038,"y":-0.139},{"m":"S in - P out","d":"4.0 ps","x":-0.013,"y":-0.076},{"m":"S in - P out","d":"4.0 ps","x":0.025,"y":-0.076},{"m":"S in - P out","d":"4.0 ps","x":0.076,"y":-0.126},{"m":"S in - P out","d":"4.0 ps","x":0.113,"y":-0.151},{"m":"S in - P out","d":"4.0 ps","x":0.101,"y":-0.101},{"m":"S in - P out","d":"4.0 ps","x":0.038,"y":-0.025},{"m":"S in - P out","d":"4.0 ps","x":0,"y":0},
{"m":"S in - P out","d":"8.0 ps","x":0,"y":0},{"m":"S in - P out","d":"8.0 ps","x":0.05,"y":0.05},{"m":"S in - P out","d":"8.0 ps","x":0.088,"y":0.113},{"m":"S in - P out","d":"8.0 ps","x":0.126,"y":0.088},{"m":"S in - P out","d":"8.0 ps","x":0.101,"y":0.025},{"m":"S in - P out","d":"8.0 ps","x":0.151,"y":-0.025},{"m":"S in - P out","d":"8.0 ps","x":0.214,"y":-0.101},{"m":"S in - P out","d":"8.0 ps","x":0.252,"y":-0.164},{"m":"S in - P out","d":"8.0 ps","x":0.177,"y":-0.151},{"m":"S in - P out","d":"8.0 ps","x":0.101,"y":-0.126},{"m":"S in - P out","d":"8.0 ps","x":0.05,"y":-0.076},{"m":"S in - P out","d":"8.0 ps","x":0.013,"y":-0.113},{"m":"S in - P out","d":"8.0 ps","x":-0.038,"y":-0.151},{"m":"S in - P out","d":"8.0 ps","x":-0.05,"y":-0.088},{"m":"S in - P out","d":"8.0 ps","x":-0.025,"y":-0.025},{"m":"S in - P out","d":"8.0 ps","x":-0.088,"y":-0.038},{"m":"S in - P out","d":"8.0 ps","x":-0.151,"y":-0.013},{"m":"S in - P out","d":"8.0 ps","x":-0.139,"y":0.05},{"m":"S in - P out","d":"8.0 ps","x":-0.088,"y":0.076},{"m":"S in - P out","d":"8.0 ps","x":-0.038,"y":0.038},{"m":"S in - P out","d":"8.0 ps","x":0,"y":0},
{"m":"S in - P out","d":"12.0 ps","x":0,"y":0},{"m":"S in - P out","d":"12.0 ps","x":0.05,"y":0.063},{"m":"S in - P out","d":"12.0 ps","x":0.101,"y":0.126},{"m":"S in - P out","d":"12.0 ps","x":0.139,"y":0.151},{"m":"S in - P out","d":"12.0 ps","x":0.151,"y":0.076},{"m":"S in - P out","d":"12.0 ps","x":0.101,"y":0.025},{"m":"S in - P out","d":"12.0 ps","x":0.151,"y":-0.05},{"m":"S in - P out","d":"12.0 ps","x":0.214,"y":-0.126},{"m":"S in - P out","d":"12.0 ps","x":0.252,"y":-0.227},{"m":"S in - P out","d":"12.0 ps","x":0.164,"y":-0.202},{"m":"S in - P out","d":"12.0 ps","x":0.088,"y":-0.151},{"m":"S in - P out","d":"12.0 ps","x":0.025,"y":-0.076},{"m":"S in - P out","d":"12.0 ps","x":-0.038,"y":-0.113},{"m":"S in - P out","d":"12.0 ps","x":-0.063,"y":-0.076},{"m":"S in - P out","d":"12.0 ps","x":-0.025,"y":-0.025},{"m":"S in - P out","d":"12.0 ps","x":-0.088,"y":0.013},{"m":"S in - P out","d":"12.0 ps","x":-0.151,"y":0.063},{"m":"S in - P out","d":"12.0 ps","x":-0.126,"y":0.126},{"m":"S in - P out","d":"12.0 ps","x":-0.063,"y":0.101},{"m":"S in - P out","d":"12.0 ps","x":0,"y":0},
{"m":"S in - P out","d":"16.0 ps","x":0,"y":0},{"m":"S in - P out","d":"16.0 ps","x":0.038,"y":0.05},{"m":"S in - P out","d":"16.0 ps","x":0.088,"y":0.126},{"m":"S in - P out","d":"16.0 ps","x":0.126,"y":0.139},{"m":"S in - P out","d":"16.0 ps","x":0.113,"y":0.063},{"m":"S in - P out","d":"16.0 ps","x":0.076,"y":0},{"m":"S in - P out","d":"16.0 ps","x":0.126,"y":-0.076},{"m":"S in - P out","d":"16.0 ps","x":0.189,"y":-0.151},{"m":"S in - P out","d":"16.0 ps","x":0.227,"y":-0.202},{"m":"S in - P out","d":"16.0 ps","x":0.151,"y":-0.189},{"m":"S in - P out","d":"16.0 ps","x":0.076,"y":-0.126},{"m":"S in - P out","d":"16.0 ps","x":0.025,"y":-0.076},{"m":"S in - P out","d":"16.0 ps","x":-0.025,"y":-0.126},{"m":"S in - P out","d":"16.0 ps","x":-0.063,"y":-0.101},{"m":"S in - P out","d":"16.0 ps","x":-0.038,"y":-0.038},{"m":"S in - P out","d":"16.0 ps","x":-0.063,"y":0.025},{"m":"S in - P out","d":"16.0 ps","x":-0.126,"y":0.126},{"m":"S in - P out","d":"16.0 ps","x":-0.088,"y":0.151},{"m":"S in - P out","d":"16.0 ps","x":-0.038,"y":0.076},{"m":"S in - P out","d":"16.0 ps","x":0,"y":0},
{"m":"S in - P out","d":"20.0 ps","x":0,"y":0},{"m":"S in - P out","d":"20.0 ps","x":0.025,"y":0.038},{"m":"S in - P out","d":"20.0 ps","x":0.063,"y":0.101},{"m":"S in - P out","d":"20.0 ps","x":0.05,"y":0.025},{"m":"S in - P out","d":"20.0 ps","x":0.101,"y":-0.05},{"m":"S in - P out","d":"20.0 ps","x":0.164,"y":-0.126},{"m":"S in - P out","d":"20.0 ps","x":0.202,"y":-0.227},{"m":"S in - P out","d":"20.0 ps","x":0.139,"y":-0.214},{"m":"S in - P out","d":"20.0 ps","x":0.076,"y":-0.126},{"m":"S in - P out","d":"20.0 ps","x":0.025,"y":-0.063},{"m":"S in - P out","d":"20.0 ps","x":-0.025,"y":-0.101},{"m":"S in - P out","d":"20.0 ps","x":-0.05,"y":-0.063},{"m":"S in - P out","d":"20.0 ps","x":-0.025,"y":-0.013},{"m":"S in - P out","d":"20.0 ps","x":-0.076,"y":0.05},{"m":"S in - P out","d":"20.0 ps","x":-0.113,"y":0.151},{"m":"S in - P out","d":"20.0 ps","x":-0.076,"y":0.151},{"m":"S in - P out","d":"20.0 ps","x":-0.025,"y":0.063},{"m":"S in - P out","d":"20.0 ps","x":0,"y":0},
{"m":"S in - P out","d":"24.0 ps","x":0,"y":0},{"m":"S in - P out","d":"24.0 ps","x":0.025,"y":0.05},{"m":"S in - P out","d":"24.0 ps","x":0.05,"y":0.101},{"m":"S in - P out","d":"24.0 ps","x":0.038,"y":0.025},{"m":"S in - P out","d":"24.0 ps","x":0.101,"y":-0.038},{"m":"S in - P out","d":"24.0 ps","x":0.177,"y":-0.126},{"m":"S in - P out","d":"24.0 ps","x":0.214,"y":-0.252},{"m":"S in - P out","d":"24.0 ps","x":0.139,"y":-0.227},{"m":"S in - P out","d":"24.0 ps","x":0.076,"y":-0.151},{"m":"S in - P out","d":"24.0 ps","x":0.025,"y":-0.088},{"m":"S in - P out","d":"24.0 ps","x":-0.025,"y":-0.076},{"m":"S in - P out","d":"24.0 ps","x":-0.05,"y":-0.038},{"m":"S in - P out","d":"24.0 ps","x":-0.013,"y":0},{"m":"S in - P out","d":"24.0 ps","x":-0.076,"y":0.05},{"m":"S in - P out","d":"24.0 ps","x":-0.126,"y":0.151},{"m":"S in - P out","d":"24.0 ps","x":-0.088,"y":0.177},{"m":"S in - P out","d":"24.0 ps","x":-0.038,"y":0.088},{"m":"S in - P out","d":"24.0 ps","x":0,"y":0},
{"m":"S in - P out","d":"28.0 ps","x":0,"y":0},{"m":"S in - P out","d":"28.0 ps","x":0.038,"y":0.05},{"m":"S in - P out","d":"28.0 ps","x":0.076,"y":0.113},{"m":"S in - P out","d":"28.0 ps","x":0.101,"y":0.076},{"m":"S in - P out","d":"28.0 ps","x":0.088,"y":0},{"m":"S in - P out","d":"28.0 ps","x":0.151,"y":-0.076},{"m":"S in - P out","d":"28.0 ps","x":0.227,"y":-0.177},{"m":"S in - P out","d":"28.0 ps","x":0.277,"y":-0.277},{"m":"S in - P out","d":"28.0 ps","x":0.177,"y":-0.252},{"m":"S in - P out","d":"28.0 ps","x":0.101,"y":-0.151},{"m":"S in - P out","d":"28.0 ps","x":0.038,"y":-0.076},{"m":"S in - P out","d":"28.0 ps","x":0,"y":-0.126},{"m":"S in - P out","d":"28.0 ps","x":-0.05,"y":-0.101},{"m":"S in - P out","d":"28.0 ps","x":-0.025,"y":-0.038},{"m":"S in - P out","d":"28.0 ps","x":-0.063,"y":0.025},{"m":"S in - P out","d":"28.0 ps","x":-0.139,"y":0.177},{"m":"S in - P out","d":"28.0 ps","x":-0.088,"y":0.202},{"m":"S in - P out","d":"28.0 ps","x":-0.038,"y":0.101},{"m":"S in - P out","d":"28.0 ps","x":0,"y":0},
{"m":"S in - P out","d":"32.0 ps","x":0,"y":0},{"m":"S in - P out","d":"32.0 ps","x":0.025,"y":0.047},{"m":"S in - P out","d":"32.0 ps","x":0.054,"y":0.13},{"m":"S in - P out","d":"32.0 ps","x":0.117,"y":0.126},{"m":"S in - P out","d":"32.0 ps","x":0.13,"y":0.047},{"m":"S in - P out","d":"32.0 ps","x":0.097,"y":-0.016},{"m":"S in - P out","d":"32.0 ps","x":0.151,"y":-0.092},{"m":"S in - P out","d":"32.0 ps","x":0.223,"y":-0.185},{"m":"S in - P out","d":"32.0 ps","x":0.243,"y":-0.248},{"m":"S in - P out","d":"32.0 ps","x":0.18,"y":-0.236},{"m":"S in - P out","d":"32.0 ps","x":0.117,"y":-0.206},{"m":"S in - P out","d":"32.0 ps","x":0.076,"y":-0.151},{"m":"S in - P out","d":"32.0 ps","x":0.034,"y":-0.122},{"m":"S in - P out","d":"32.0 ps","x":-0.029,"y":-0.101},{"m":"S in - P out","d":"32.0 ps","x":-0.072,"y":-0.113},{"m":"S in - P out","d":"32.0 ps","x":-0.059,"y":-0.059},{"m":"S in - P out","d":"32.0 ps","x":-0.042,"y":-0.016},{"m":"S in - P out","d":"32.0 ps","x":-0.092,"y":0.025},{"m":"S in - P out","d":"32.0 ps","x":-0.142,"y":0.11},{"m":"S in - P out","d":"32.0 ps","x":-0.126,"y":0.173},{"m":"S in - P out","d":"32.0 ps","x":-0.072,"y":0.142},{"m":"S in - P out","d":"32.0 ps","x":-0.016,"y":0.059},{"m":"S in - P out","d":"32.0 ps","x":0,"y":0}
],
"r4": [
{"m":"S in - S out","d":"-2.0 ps","x":0,"y":0},{"m":"S in - S out","d":"-2.0 ps","x":0.021,"y":0.035},{"m":"S in - S out","d":"-2.0 ps","x":0.059,"y":0.141},{"m":"S in - S out","d":"-2.0 ps","x":0.105,"y":0.288},{"m":"S in - S out","d":"-2.0 ps","x":0.079,"y":0.456},{"m":"S in - S out","d":"-2.0 ps","x":0.016,"y":0.583},{"m":"S in - S out","d":"-2.0 ps","x":-0.054,"y":0.687},{"m":"S in - S out","d":"-2.0 ps","x":-0.11,"y":0.687},{"m":"S in - S out","d":"-2.0 ps","x":-0.151,"y":0.574},{"m":"S in - S out","d":"-2.0 ps","x":-0.193,"y":0.456},{"m":"S in - S out","d":"-2.0 ps","x":-0.236,"y":0.33},{"m":"S in - S out","d":"-2.0 ps","x":-0.193,"y":0.224},{"m":"S in - S out","d":"-2.0 ps","x":-0.13,"y":0.129},{"m":"S in - S out","d":"-2.0 ps","x":-0.054,"y":0.035},{"m":"S in - S out","d":"-2.0 ps","x":-0.067,"y":0.003},{"m":"S in - S out","d":"-2.0 ps","x":-0.038,"y":-0.019},{"m":"S in - S out","d":"-2.0 ps","x":0,"y":0},{"m":"S in - S out","d":"-2.0 ps","x":0.059,"y":-0.028},{"m":"S in - S out","d":"-2.0 ps","x":0.13,"y":-0.098},{"m":"S in - S out","d":"-2.0 ps","x":0.214,"y":-0.208},{"m":"S in - S out","d":"-2.0 ps","x":0.173,"y":-0.224},{"m":"S in - S out","d":"-2.0 ps","x":0.189,"y":-0.313},{"m":"S in - S out","d":"-2.0 ps","x":0.139,"y":-0.343},{"m":"S in - S out","d":"-2.0 ps","x":0.13,"y":-0.477},{"m":"S in - S out","d":"-2.0 ps","x":0.079,"y":-0.448},{"m":"S in - S out","d":"-2.0 ps","x":0.029,"y":-0.435},{"m":"S in - S out","d":"-2.0 ps","x":-0.079,"y":-0.393},{"m":"S in - S out","d":"-2.0 ps","x":-0.088,"y":-0.322},{"m":"S in - S out","d":"-2.0 ps","x":-0.079,"y":-0.208},{"m":"S in - S out","d":"-2.0 ps","x":-0.054,"y":-0.124},{"m":"S in - S out","d":"-2.0 ps","x":-0.038,"y":-0.057},{"m":"S in - S out","d":"-2.0 ps","x":0,"y":0},
{"m":"S in - S out","d":"-0.0 ps","x":0,"y":0},{"m":"S in - S out","d":"-0.0 ps","x":0.021,"y":0.047},{"m":"S in - S out","d":"-0.0 ps","x":0.063,"y":0.173},{"m":"S in - S out","d":"-0.0 ps","x":0.084,"y":0.332},{"m":"S in - S out","d":"-0.0 ps","x":0.047,"y":0.458},{"m":"S in - S out","d":"-0.0 ps","x":-0.021,"y":0.53},{"m":"S in - S out","d":"-0.0 ps","x":-0.084,"y":0.551},{"m":"S in - S out","d":"-0.0 ps","x":-0.117,"y":0.501},{"m":"S in - S out","d":"-0.0 ps","x":-0.148,"y":0.382},{"m":"S in - S out","d":"-0.0 ps","x":-0.198,"y":0.256},{"m":"S in - S out","d":"-0.0 ps","x":-0.18,"y":0.173},{"m":"S in - S out","d":"-0.0 ps","x":-0.113,"y":0.097},{"m":"S in - S out","d":"-0.0 ps","x":-0.054,"y":0.025},{"m":"S in - S out","d":"-0.0 ps","x":-0.063,"y":-0.025},{"m":"S in - S out","d":"-0.0 ps","x":-0.021,"y":-0.016},{"m":"S in - S out","d":"-0.0 ps","x":0,"y":0},{"m":"S in - S out","d":"-0.0 ps","x":0.063,"y":-0.059},{"m":"S in - S out","d":"-0.0 ps","x":0.139,"y":-0.122},{"m":"S in - S out","d":"-0.0 ps","x":0.198,"y":-0.206},{"m":"S in - S out","d":"-0.0 ps","x":0.164,"y":-0.248},{"m":"S in - S out","d":"-0.0 ps","x":0.18,"y":-0.311},{"m":"S in - S out","d":"-0.0 ps","x":0.139,"y":-0.324},{"m":"S in - S out","d":"-0.0 ps","x":0.113,"y":-0.375},{"m":"S in - S out","d":"-0.0 ps","x":0.076,"y":-0.34},{"m":"S in - S out","d":"-0.0 ps","x":0.021,"y":-0.299},{"m":"S in - S out","d":"-0.0 ps","x":-0.021,"y":-0.248},{"m":"S in - S out","d":"-0.0 ps","x":-0.042,"y":-0.164},{"m":"S in - S out","d":"-0.0 ps","x":-0.025,"y":-0.088},{"m":"S in - S out","d":"-0.0 ps","x":0,"y":0},
{"m":"S in - S out","d":"4.0 ps","x":0,"y":0},{"m":"S in - S out","d":"4.0 ps","x":0.013,"y":0.05},{"m":"S in - S out","d":"4.0 ps","x":0,"y":0.101},{"m":"S in - S out","d":"4.0 ps","x":-0.038,"y":0.113},{"m":"S in - S out","d":"4.0 ps","x":-0.063,"y":0.076},{"m":"S in - S out","d":"4.0 ps","x":-0.05,"y":0.025},{"m":"S in - S out","d":"4.0 ps","x":-0.013,"y":0},{"m":"S in - S out","d":"4.0 ps","x":0.025,"y":-0.025},{"m":"S in - S out","d":"4.0 ps","x":0.05,"y":-0.063},{"m":"S in - S out","d":"4.0 ps","x":0.063,"y":-0.101},{"m":"S in - S out","d":"4.0 ps","x":0.038,"y":-0.113},{"m":"S in - S out","d":"4.0 ps","x":0.013,"y":-0.076},{"m":"S in - S out","d":"4.0 ps","x":-0.013,"y":-0.038},{"m":"S in - S out","d":"4.0 ps","x":0,"y":0},
{"m":"S in - S out","d":"8.0 ps","x":0,"y":0},{"m":"S in - S out","d":"8.0 ps","x":0.038,"y":0.076},{"m":"S in - S out","d":"8.0 ps","x":0.038,"y":0.164},{"m":"S in - S out","d":"8.0 ps","x":-0.025,"y":0.252},{"m":"S in - S out","d":"8.0 ps","x":-0.101,"y":0.29},{"m":"S in - S out","d":"8.0 ps","x":-0.164,"y":0.252},{"m":"S in - S out","d":"8.0 ps","x":-0.164,"y":0.177},{"m":"S in - S out","d":"8.0 ps","x":-0.101,"y":0.088},{"m":"S in - S out","d":"8.0 ps","x":-0.038,"y":0.025},{"m":"S in - S out","d":"8.0 ps","x":0,"y":0},{"m":"S in - S out","d":"8.0 ps","x":0.038,"y":-0.038},{"m":"S in - S out","d":"8.0 ps","x":0.063,"y":-0.113},{"m":"S in - S out","d":"8.0 ps","x":0.076,"y":-0.177},{"m":"S in - S out","d":"8.0 ps","x":0.139,"y":-0.189},{"m":"S in - S out","d":"8.0 ps","x":0.151,"y":-0.126},{"m":"S in - S out","d":"8.0 ps","x":0.101,"y":-0.063},{"m":"S in - S out","d":"8.0 ps","x":0.038,"y":-0.013},{"m":"S in - S out","d":"8.0 ps","x":0,"y":0},
{"m":"S in - S out","d":"12.0 ps","x":0,"y":0},{"m":"S in - S out","d":"12.0 ps","x":0.025,"y":0.076},{"m":"S in - S out","d":"12.0 ps","x":0.025,"y":0.177},{"m":"S in - S out","d":"12.0 ps","x":-0.025,"y":0.29},{"m":"S in - S out","d":"12.0 ps","x":-0.101,"y":0.303},{"m":"S in - S out","d":"12.0 ps","x":-0.126,"y":0.227},{"m":"S in - S out","d":"12.0 ps","x":-0.101,"y":0.126},{"m":"S in - S out","d":"12.0 ps","x":-0.038,"y":0.038},{"m":"S in - S out","d":"12.0 ps","x":0,"y":0},{"m":"S in - S out","d":"12.0 ps","x":0.038,"y":-0.05},{"m":"S in - S out","d":"12.0 ps","x":0.063,"y":-0.126},{"m":"S in - S out","d":"12.0 ps","x":0.101,"y":-0.227},{"m":"S in - S out","d":"12.0 ps","x":0.076,"y":-0.252},{"m":"S in - S out","d":"12.0 ps","x":0.025,"y":-0.202},{"m":"S in - S out","d":"12.0 ps","x":-0.025,"y":-0.126},{"m":"S in - S out","d":"12.0 ps","x":-0.025,"y":-0.05},{"m":"S in - S out","d":"12.0 ps","x":0,"y":0},
{"m":"S in - S out","d":"16.0 ps","x":0,"y":0},{"m":"S in - S out","d":"16.0 ps","x":0.025,"y":0.063},{"m":"S in - S out","d":"16.0 ps","x":0.025,"y":0.164},{"m":"S in - S out","d":"16.0 ps","x":0,"y":0.24},{"m":"S in - S out","d":"16.0 ps","x":-0.05,"y":0.227},{"m":"S in - S out","d":"16.0 ps","x":-0.076,"y":0.151},{"m":"S in - S out","d":"16.0 ps","x":-0.05,"y":0.063},{"m":"S in - S out","d":"16.0 ps","x":0,"y":0},{"m":"S in - S out","d":"16.0 ps","x":0.05,"y":-0.038},{"m":"S in - S out","d":"16.0 ps","x":0.076,"y":-0.113},{"m":"S in - S out","d":"16.0 ps","x":0.063,"y":-0.189},{"m":"S in - S out","d":"16.0 ps","x":0.025,"y":-0.214},{"m":"S in - S out","d":"16.0 ps","x":0,"y":-0.151},{"m":"S in - S out","d":"16.0 ps","x":-0.025,"y":-0.063},{"m":"S in - S out","d":"16.0 ps","x":0,"y":0},
{"m":"S in - S out","d":"20.0 ps","x":0,"y":0},{"m":"S in - S out","d":"20.0 ps","x":0.025,"y":0.038},{"m":"S in - S out","d":"20.0 ps","x":0.038,"y":0.101},{"m":"S in - S out","d":"20.0 ps","x":0,"y":0.139},{"m":"S in - S out","d":"20.0 ps","x":-0.038,"y":0.113},{"m":"S in - S out","d":"20.0 ps","x":-0.05,"y":0.05},{"m":"S in - S out","d":"20.0 ps","x":-0.076,"y":0.025},{"m":"S in - S out","d":"20.0 ps","x":-0.038,"y":0},{"m":"S in - S out","d":"20.0 ps","x":0,"y":0},{"m":"S in - S out","d":"20.0 ps","x":0.038,"y":-0.025},{"m":"S in - S out","d":"20.0 ps","x":0.076,"y":-0.038},{"m":"S in - S out","d":"20.0 ps","x":0.063,"y":-0.088},{"m":"S in - S out","d":"20.0 ps","x":0.025,"y":-0.101},{"m":"S in - S out","d":"20.0 ps","x":0,"y":-0.05},{"m":"S in - S out","d":"20.0 ps","x":0,"y":0},
{"m":"S in - S out","d":"24.0 ps","x":0,"y":0},{"m":"S in - S out","d":"24.0 ps","x":0.025,"y":0.063},{"m":"S in - S out","d":"24.0 ps","x":0.013,"y":0.151},{"m":"S in - S out","d":"24.0 ps","x":-0.038,"y":0.214},{"m":"S in - S out","d":"24.0 ps","x":-0.088,"y":0.177},{"m":"S in - S out","d":"24.0 ps","x":-0.088,"y":0.101},{"m":"S in - S out","d":"24.0 ps","x":-0.05,"y":0.038},{"m":"S in - S out","d":"24.0 ps","x":0,"y":0},{"m":"S in - S out","d":"24.0 ps","x":0.05,"y":-0.038},{"m":"S in - S out","d":"24.0 ps","x":0.088,"y":-0.101},{"m":"S in - S out","d":"24.0 ps","x":0.088,"y":-0.151},{"m":"S in - S out","d":"24.0 ps","x":0.038,"y":-0.139},{"m":"S in - S out","d":"24.0 ps","x":0.013,"y":-0.076},{"m":"S in - S out","d":"24.0 ps","x":0,"y":0},
{"m":"S in - S out","d":"28.0 ps","x":0,"y":0},{"m":"S in - S out","d":"28.0 ps","x":0.025,"y":0.076},{"m":"S in - S out","d":"28.0 ps","x":0.025,"y":0.189},{"m":"S in - S out","d":"28.0 ps","x":-0.013,"y":0.277},{"m":"S in - S out","d":"28.0 ps","x":-0.076,"y":0.277},{"m":"S in - S out","d":"28.0 ps","x":-0.101,"y":0.202},{"m":"S in - S out","d":"28.0 ps","x":-0.088,"y":0.101},{"m":"S in - S out","d":"28.0 ps","x":-0.038,"y":0.025},{"m":"S in - S out","d":"28.0 ps","x":0,"y":0},{"m":"S in - S out","d":"28.0 ps","x":0.05,"y":-0.05},{"m":"S in - S out","d":"28.0 ps","x":0.101,"y":-0.101},{"m":"S in - S out","d":"28.0 ps","x":0.139,"y":-0.177},{"m":"S in - S out","d":"28.0 ps","x":0.113,"y":-0.202},{"m":"S in - S out","d":"28.0 ps","x":0.05,"y":-0.177},{"m":"S in - S out","d":"28.0 ps","x":0.013,"y":-0.101},{"m":"S in - S out","d":"28.0 ps","x":0,"y":0},
{"m":"S in - S out","d":"32.0 ps","x":0,"y":0},{"m":"S in - S out","d":"32.0 ps","x":0.025,"y":0.047},{"m":"S in - S out","d":"32.0 ps","x":0.042,"y":0.13},{"m":"S in - S out","d":"32.0 ps","x":0.016,"y":0.214},{"m":"S in - S out","d":"32.0 ps","x":-0.038,"y":0.265},{"m":"S in - S out","d":"32.0 ps","x":-0.079,"y":0.214},{"m":"S in - S out","d":"32.0 ps","x":-0.105,"y":0.101},{"m":"S in - S out","d":"32.0 ps","x":-0.059,"y":0.042},{"m":"S in - S out","d":"32.0 ps","x":-0.092,"y":-0.016},{"m":"S in - S out","d":"32.0 ps","x":-0.042,"y":-0.042},{"m":"S in - S out","d":"32.0 ps","x":-0.025,"y":-0.092},{"m":"S in - S out","d":"32.0 ps","x":0.025,"y":-0.142},{"m":"S in - S out","d":"32.0 ps","x":0.054,"y":-0.193},{"m":"S in - S out","d":"32.0 ps","x":0.076,"y":-0.135},{"m":"S in - S out","d":"32.0 ps","x":0.117,"y":-0.142},{"m":"S in - S out","d":"32.0 ps","x":0.11,"y":-0.079},{"m":"S in - S out","d":"32.0 ps","x":0.054,"y":-0.025},{"m":"S in - S out","d":"32.0 ps","x":0,"y":0}
]
},
"vconcat": [
{"data": {"name": "r1"},
 "facet": {"row": {"field": "m", "type": "nominal", "header": {"title": null, "labelOrient": "right", "labelAngle": 90, "labelFontSize": 10.7, "labelPadding": 14, "labelColor": "#000000"}},
  "column": {"field": "d", "type": "nominal", "sort": ["-2.0 ps","-0.0 ps","4.0 ps","8.0 ps","12.0 ps","16.0 ps","20.0 ps","24.0 ps","28.0 ps","32.0 ps"], "header": {"title": null, "labelFontSize": 10.7, "labelPadding": 10, "labelColor": "#000000"}}},
 "spacing": {"row": 0, "column": 14.5},
 "spec": {"width": 111, "height": 111, "layer": [
  {"transform": [{"aggregate": [{"op": "count", "as": "n"}], "groupby": ["m", "d"]}], "mark": {"type": "point", "shape": "circle", "filled": true, "fill": "#f4f4f4", "strokeWidth": 0, "size": 12254, "opacity": 1},
   "encoding": {"x": {"datum": 0, "type": "quantitative", "scale": {"domain": [-0.62, 0.62], "nice": false}, "axis": null}, "y": {"datum": 0, "type": "quantitative", "scale": {"domain": [-0.62, 0.62], "nice": false}, "axis": {"title": "SHG Intensity (a.u.)", "values": [-0.57, 0, 0.57], "labelExpr": "datum.value == 0 ? '0.0' : format(abs(datum.value), '.2f')"}}}},
  {"transform": [{"aggregate": [{"op": "count", "as": "n"}], "groupby": ["m", "d"]}], "mark": {"type": "rule", "color": "#a9a9a9", "strokeWidth": 2},
   "encoding": {"x": {"datum": 0, "type": "quantitative", "scale": {"domain": [-0.62, 0.62], "nice": false}, "axis": null}}},
  {"transform": [{"aggregate": [{"op": "count", "as": "n"}], "groupby": ["m", "d"]}], "mark": {"type": "rule", "color": "#a9a9a9", "strokeWidth": 2},
   "encoding": {"y": {"datum": 0, "type": "quantitative", "scale": {"domain": [-0.62, 0.62], "nice": false}, "axis": {"title": "SHG Intensity (a.u.)", "values": [-0.57, 0, 0.57], "labelExpr": "datum.value == 0 ? '0.0' : format(abs(datum.value), '.2f')"}}}},
  {"mark": {"type": "line", "stroke": "#ba55d3", "strokeWidth": 1.5, "fill": "#ba55d3", "fillOpacity": 0.22, "strokeJoin": "round"},
   "encoding": {"x": {"field": "x", "type": "quantitative", "scale": {"domain": [-0.62, 0.62], "nice": false}, "axis": null},
    "y": {"field": "y", "type": "quantitative", "scale": {"domain": [-0.62, 0.62], "nice": false}, "axis": {"title": "SHG Intensity (a.u.)", "values": [-0.57, 0, 0.57], "labelExpr": "datum.value == 0 ? '0.0' : format(abs(datum.value), '.2f')"}},
    "order": {"value": null}}},
  {"transform": [{"aggregate": [{"op": "count", "as": "n"}], "groupby": ["m", "d"]}], "mark": {"type": "point", "shape": "circle", "filled": false, "stroke": "#000000", "strokeWidth": 1, "size": 12254, "opacity": 1},
   "encoding": {"x": {"datum": 0, "type": "quantitative", "scale": {"domain": [-0.62, 0.62], "nice": false}, "axis": null}, "y": {"datum": 0, "type": "quantitative", "scale": {"domain": [-0.62, 0.62], "nice": false}, "axis": {"title": "SHG Intensity (a.u.)", "values": [-0.57, 0, 0.57], "labelExpr": "datum.value == 0 ? '0.0' : format(abs(datum.value), '.2f')"}}}}
 ]}},
{"data": {"name": "r2"},
 "facet": {"row": {"field": "m", "type": "nominal", "header": {"title": null, "labelOrient": "right", "labelAngle": 90, "labelFontSize": 10.7, "labelPadding": 14, "labelColor": "#000000"}},
  "column": {"field": "d", "type": "nominal", "sort": ["-2.0 ps","-0.0 ps","4.0 ps","8.0 ps","12.0 ps","16.0 ps","20.0 ps","24.0 ps","28.0 ps","32.0 ps"], "header": null}},
 "spacing": {"row": 0, "column": 14.5},
 "spec": {"width": 111, "height": 111, "layer": [
  {"transform": [{"aggregate": [{"op": "count", "as": "n"}], "groupby": ["m", "d"]}], "mark": {"type": "point", "shape": "circle", "filled": true, "fill": "#f4f4f4", "strokeWidth": 0, "size": 12254, "opacity": 1},
   "encoding": {"x": {"datum": 0, "type": "quantitative", "scale": {"domain": [-1.09, 1.09], "nice": false}, "axis": null}, "y": {"datum": 0, "type": "quantitative", "scale": {"domain": [-1.09, 1.09], "nice": false}, "axis": {"title": "SHG Intensity (a.u.)", "values": [-1, 0, 1], "labelExpr": "format(abs(datum.value), '.1f')"}}}},
  {"transform": [{"aggregate": [{"op": "count", "as": "n"}], "groupby": ["m", "d"]}], "mark": {"type": "rule", "color": "#a9a9a9", "strokeWidth": 2},
   "encoding": {"x": {"datum": 0, "type": "quantitative", "scale": {"domain": [-1.09, 1.09], "nice": false}, "axis": null}}},
  {"transform": [{"aggregate": [{"op": "count", "as": "n"}], "groupby": ["m", "d"]}], "mark": {"type": "rule", "color": "#a9a9a9", "strokeWidth": 2},
   "encoding": {"y": {"datum": 0, "type": "quantitative", "scale": {"domain": [-1.09, 1.09], "nice": false}, "axis": {"title": "SHG Intensity (a.u.)", "values": [-1, 0, 1], "labelExpr": "format(abs(datum.value), '.1f')"}}}},
  {"mark": {"type": "line", "stroke": "#ba55d3", "strokeWidth": 1.5, "fill": "#ba55d3", "fillOpacity": 0.22, "strokeJoin": "round"},
   "encoding": {"x": {"field": "x", "type": "quantitative", "scale": {"domain": [-1.09, 1.09], "nice": false}, "axis": null},
    "y": {"field": "y", "type": "quantitative", "scale": {"domain": [-1.09, 1.09], "nice": false}, "axis": {"title": "SHG Intensity (a.u.)", "values": [-1, 0, 1], "labelExpr": "format(abs(datum.value), '.1f')"}},
    "order": {"value": null}}},
  {"transform": [{"aggregate": [{"op": "count", "as": "n"}], "groupby": ["m", "d"]}], "mark": {"type": "point", "shape": "circle", "filled": false, "stroke": "#000000", "strokeWidth": 1, "size": 12254, "opacity": 1},
   "encoding": {"x": {"datum": 0, "type": "quantitative", "scale": {"domain": [-1.09, 1.09], "nice": false}, "axis": null}, "y": {"datum": 0, "type": "quantitative", "scale": {"domain": [-1.09, 1.09], "nice": false}, "axis": {"title": "SHG Intensity (a.u.)", "values": [-1, 0, 1], "labelExpr": "format(abs(datum.value), '.1f')"}}}}
 ]}},
{"data": {"name": "r3"},
 "facet": {"row": {"field": "m", "type": "nominal", "header": {"title": null, "labelOrient": "right", "labelAngle": 90, "labelFontSize": 10.7, "labelPadding": 14, "labelColor": "#000000"}},
  "column": {"field": "d", "type": "nominal", "sort": ["-2.0 ps","-0.0 ps","4.0 ps","8.0 ps","12.0 ps","16.0 ps","20.0 ps","24.0 ps","28.0 ps","32.0 ps"], "header": null}},
 "spacing": {"row": 0, "column": 14.5},
 "spec": {"width": 111, "height": 111, "layer": [
  {"transform": [{"aggregate": [{"op": "count", "as": "n"}], "groupby": ["m", "d"]}], "mark": {"type": "point", "shape": "circle", "filled": true, "fill": "#f4f4f4", "strokeWidth": 0, "size": 12254, "opacity": 1},
   "encoding": {"x": {"datum": 0, "type": "quantitative", "scale": {"domain": [-0.7, 0.7], "nice": false}, "axis": null}, "y": {"datum": 0, "type": "quantitative", "scale": {"domain": [-0.7, 0.7], "nice": false}, "axis": {"title": "SHG Intensity (a.u.)", "values": [-0.65, 0, 0.65], "labelExpr": "datum.value == 0 ? '0.0' : format(abs(datum.value), '.2f')"}}}},
  {"transform": [{"aggregate": [{"op": "count", "as": "n"}], "groupby": ["m", "d"]}], "mark": {"type": "rule", "color": "#a9a9a9", "strokeWidth": 2},
   "encoding": {"x": {"datum": 0, "type": "quantitative", "scale": {"domain": [-0.7, 0.7], "nice": false}, "axis": null}}},
  {"transform": [{"aggregate": [{"op": "count", "as": "n"}], "groupby": ["m", "d"]}], "mark": {"type": "rule", "color": "#a9a9a9", "strokeWidth": 2},
   "encoding": {"y": {"datum": 0, "type": "quantitative", "scale": {"domain": [-0.7, 0.7], "nice": false}, "axis": {"title": "SHG Intensity (a.u.)", "values": [-0.65, 0, 0.65], "labelExpr": "datum.value == 0 ? '0.0' : format(abs(datum.value), '.2f')"}}}},
  {"mark": {"type": "line", "stroke": "#ba55d3", "strokeWidth": 1.5, "fill": "#ba55d3", "fillOpacity": 0.22, "strokeJoin": "round"},
   "encoding": {"x": {"field": "x", "type": "quantitative", "scale": {"domain": [-0.7, 0.7], "nice": false}, "axis": null},
    "y": {"field": "y", "type": "quantitative", "scale": {"domain": [-0.7, 0.7], "nice": false}, "axis": {"title": "SHG Intensity (a.u.)", "values": [-0.65, 0, 0.65], "labelExpr": "datum.value == 0 ? '0.0' : format(abs(datum.value), '.2f')"}},
    "order": {"value": null}}},
  {"transform": [{"aggregate": [{"op": "count", "as": "n"}], "groupby": ["m", "d"]}], "mark": {"type": "point", "shape": "circle", "filled": false, "stroke": "#000000", "strokeWidth": 1, "size": 12254, "opacity": 1},
   "encoding": {"x": {"datum": 0, "type": "quantitative", "scale": {"domain": [-0.7, 0.7], "nice": false}, "axis": null}, "y": {"datum": 0, "type": "quantitative", "scale": {"domain": [-0.7, 0.7], "nice": false}, "axis": {"title": "SHG Intensity (a.u.)", "values": [-0.65, 0, 0.65], "labelExpr": "datum.value == 0 ? '0.0' : format(abs(datum.value), '.2f')"}}}}
 ]}},
{"data": {"name": "r4"},
 "facet": {"row": {"field": "m", "type": "nominal", "header": {"title": null, "labelOrient": "right", "labelAngle": 90, "labelFontSize": 10.7, "labelPadding": 14, "labelColor": "#000000"}},
  "column": {"field": "d", "type": "nominal", "sort": ["-2.0 ps","-0.0 ps","4.0 ps","8.0 ps","12.0 ps","16.0 ps","20.0 ps","24.0 ps","28.0 ps","32.0 ps"], "header": null}},
 "spacing": {"row": 0, "column": 14.5},
 "spec": {"width": 111, "height": 111, "layer": [
  {"transform": [{"aggregate": [{"op": "count", "as": "n"}], "groupby": ["m", "d"]}], "mark": {"type": "point", "shape": "circle", "filled": true, "fill": "#f4f4f4", "strokeWidth": 0, "size": 12254, "opacity": 1},
   "encoding": {"x": {"datum": 0, "type": "quantitative", "scale": {"domain": [-0.7, 0.7], "nice": false}, "axis": null}, "y": {"datum": 0, "type": "quantitative", "scale": {"domain": [-0.7, 0.7], "nice": false}, "axis": {"title": "SHG Intensity (a.u.)", "values": [-0.65, 0, 0.65], "labelExpr": "datum.value == 0 ? '0.0' : format(abs(datum.value), '.2f')"}}}},
  {"transform": [{"aggregate": [{"op": "count", "as": "n"}], "groupby": ["m", "d"]}], "mark": {"type": "rule", "color": "#a9a9a9", "strokeWidth": 2},
   "encoding": {"x": {"datum": 0, "type": "quantitative", "scale": {"domain": [-0.7, 0.7], "nice": false}, "axis": null}}},
  {"transform": [{"aggregate": [{"op": "count", "as": "n"}], "groupby": ["m", "d"]}], "mark": {"type": "rule", "color": "#a9a9a9", "strokeWidth": 2},
   "encoding": {"y": {"datum": 0, "type": "quantitative", "scale": {"domain": [-0.7, 0.7], "nice": false}, "axis": {"title": "SHG Intensity (a.u.)", "values": [-0.65, 0, 0.65], "labelExpr": "datum.value == 0 ? '0.0' : format(abs(datum.value), '.2f')"}}}},
  {"mark": {"type": "line", "stroke": "#ba55d3", "strokeWidth": 1.5, "fill": "#ba55d3", "fillOpacity": 0.22, "strokeJoin": "round"},
   "encoding": {"x": {"field": "x", "type": "quantitative", "scale": {"domain": [-0.7, 0.7], "nice": false}, "axis": null},
    "y": {"field": "y", "type": "quantitative", "scale": {"domain": [-0.7, 0.7], "nice": false}, "axis": {"title": "SHG Intensity (a.u.)", "values": [-0.65, 0, 0.65], "labelExpr": "datum.value == 0 ? '0.0' : format(abs(datum.value), '.2f')"}},
    "order": {"value": null}}},
  {"transform": [{"aggregate": [{"op": "count", "as": "n"}], "groupby": ["m", "d"]}], "mark": {"type": "point", "shape": "circle", "filled": false, "stroke": "#000000", "strokeWidth": 1, "size": 12254, "opacity": 1},
   "encoding": {"x": {"datum": 0, "type": "quantitative", "scale": {"domain": [-0.7, 0.7], "nice": false}, "axis": null}, "y": {"datum": 0, "type": "quantitative", "scale": {"domain": [-0.7, 0.7], "nice": false}, "axis": {"title": "SHG Intensity (a.u.)", "values": [-0.65, 0, 0.65], "labelExpr": "datum.value == 0 ? '0.0' : format(abs(datum.value), '.2f')"}}}}
 ]}}
],
"config": {
 "font": "DejaVu Sans",
 "view": {"stroke": null},
 "axisY": {"offset": 18, "tickSize": 3, "tickColor": "#000000", "domainColor": "#000000", "labelFontSize": 5.2, "labelPadding": 1, "labelColor": "#222222", "titleFontSize": 9.5, "titleFontWeight": "normal", "titleColor": "#000000", "titlePadding": 4, "minExtent": 16, "maxExtent": 16, "grid": false}
}
}
